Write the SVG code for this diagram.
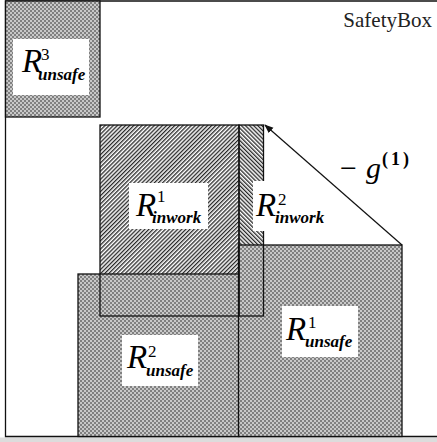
<svg xmlns="http://www.w3.org/2000/svg" width="437" height="442" viewBox="0 0 437 442">
  <style>
    .edge { fill: none; stroke: #111; stroke-width: 1.3; }
    .label-bg { fill: #fff; stroke: none; }
    .lbl { font-family: "Liberation Serif", "Times New Roman", serif; fill: #000; }
    .R { font-style: italic; font-size: 33px; }
    .sup { font-size: 17px; font-style: normal; }
    .sub { font-style: italic; font-weight: bold; font-size: 17px; }
    .title { font-family: "Liberation Serif", "Times New Roman", serif; font-size: 21px; fill: #222; }
  </style>
  <defs>
    <!-- fine checker used for unsafe regions -->
    <pattern id="checker" width="4" height="4" patternUnits="userSpaceOnUse">
      <rect width="4" height="4" fill="#c8c8c8"/>
      <rect x="0" y="0" width="2" height="2" fill="#808080"/>
      <rect x="2" y="2" width="2" height="2" fill="#808080"/>
    </pattern>
    <!-- forward diagonal hatching -->
    <pattern id="hatchF" width="2.9" height="2.9" patternUnits="userSpaceOnUse" patternTransform="rotate(45)">
      <rect width="2.9" height="2.9" fill="#fff"/>
      <line x1="0.7" y1="0" x2="0.7" y2="2.9" stroke="#111" stroke-width="1.2"/>
    </pattern>
    <!-- backward diagonal hatching -->
    <pattern id="hatchB" width="2.9" height="2.9" patternUnits="userSpaceOnUse" patternTransform="rotate(-45)">
      <rect width="2.9" height="2.9" fill="#fff"/>
      <line x1="0.7" y1="0" x2="0.7" y2="2.9" stroke="#111" stroke-width="1.2"/>
    </pattern>
    <marker id="arrow" viewBox="0 0 10 10" refX="9" refY="5" markerWidth="9" markerHeight="9" markerUnits="userSpaceOnUse" orient="auto">
      <path d="M0,1 L10,5 L0,9 z" fill="#111"/>
    </marker>
  </defs>

  <rect width="437" height="442" fill="#fff"/>

  <!-- safety box frame -->
  <g id="safetybox">
    <rect x="0" y="437.5" width="437" height="4.5" fill="#dcdcdc"/>
    <polyline class="edge" points="437,1 5.5,1 5.5,436.5 437,436.5" stroke-width="1.6"/>
    <text class="title" x="432" y="27" text-anchor="end">SafetyBox</text>
  </g>

  <!-- in-work regions (fills) -->
  <g id="inwork1-fill">
    <rect x="100" y="125" width="139" height="191" fill="url(#hatchF)"/>
  </g>
  <g id="inwork2-fill">
    <rect x="239" y="125" width="24.5" height="191" fill="url(#hatchB)"/>
  </g>

  <!-- unsafe regions -->
  <g id="unsafe3">
    <rect x="5.5" y="1" width="94.5" height="116" class="edge" style="fill:url(#checker)"/>
    <rect class="label-bg" x="13" y="39" width="76" height="56"/>
    <text class="lbl"><tspan class="R" x="22" y="72">R</tspan><tspan class="sup" x="41" y="60">3</tspan><tspan class="sub" x="38" y="80">unsafe</tspan></text>
  </g>
  <g id="unsafe2">
    <rect x="78" y="274" width="161" height="162.5" class="edge" style="fill:url(#checker)"/>
  </g>
  <g id="unsafe1">
    <rect x="238.5" y="245" width="163.5" height="191.5" class="edge" style="fill:url(#checker)"/>
  </g>

  <!-- in-work outlines drawn over everything -->
  <g id="inwork1">
    <rect class="edge" x="100" y="125" width="139" height="191"/>
    <rect class="label-bg" x="129" y="183" width="79" height="46"/>
    <text class="lbl"><tspan class="R" x="136" y="216">R</tspan><tspan class="sup" x="157" y="202">1</tspan><tspan class="sub" x="152" y="223">inwork</tspan></text>
  </g>
  <g id="inwork2">
    <rect class="edge" x="239" y="125" width="24.5" height="191"/>
    <rect class="label-bg" x="253" y="181" width="80" height="50"/>
    <text class="lbl"><tspan class="R" x="256" y="216">R</tspan><tspan class="sup" x="278" y="205">2</tspan><tspan class="sub" x="275" y="223">inwork</tspan></text>
  </g>

  <!-- labels of the lower unsafe regions -->
  <g id="unsafe2-label">
    <rect class="label-bg" x="122" y="335" width="76" height="51"/>
    <text class="lbl"><tspan class="R" x="127" y="368">R</tspan><tspan class="sup" x="148" y="357">2</tspan><tspan class="sub" x="146" y="376">unsafe</tspan></text>
  </g>
  <g id="unsafe1-label">
    <rect class="label-bg" x="282" y="306" width="76" height="51"/>
    <text class="lbl"><tspan class="R" x="286" y="340">R</tspan><tspan class="sup" x="308" y="328">1</tspan><tspan class="sub" x="305" y="347">unsafe</tspan></text>
  </g>

  <!-- gradient step connector -->
  <g id="connectors">
    <line x1="402" y1="245" x2="265" y2="125" stroke="#111" stroke-width="1.2" marker-end="url(#arrow)"/>
  </g>
  <g id="step-label">
    <text class="lbl"><tspan x="340" y="178" font-size="30">−</tspan><tspan x="366" y="178" font-size="30" font-style="italic">g</tspan><tspan x="382" y="165" font-size="18" font-weight="bold" textLength="27" lengthAdjust="spacing">(1)</tspan></text>
  </g>
</svg>
